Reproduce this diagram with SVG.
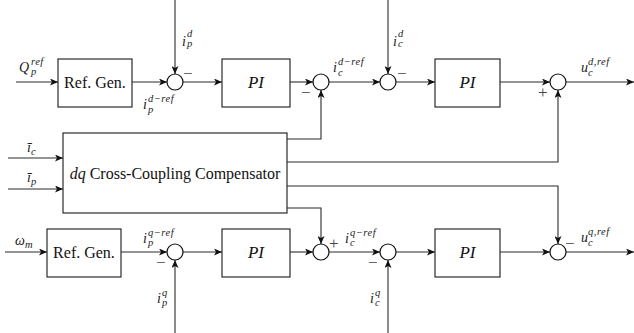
<svg xmlns="http://www.w3.org/2000/svg" width="634" height="333" viewBox="0 0 634 333">
<defs>
<marker id="ah" markerUnits="userSpaceOnUse" markerWidth="9" markerHeight="7" refX="8" refY="3.5" orient="auto">
<path d="M0,0 L8,3.5 L0,7 L2,3.5 Z" fill="#111"/>
</marker>
</defs>
<style>
.ar{fill:none;stroke:#2b2b2b;stroke-width:1.1;marker-end:url(#ah)}
.bx{fill:#fff;stroke:#2b2b2b;stroke-width:1.2}
.sm{fill:#fff;stroke:#111;stroke-width:1.2}
text{font-family:'Liberation Serif','Times New Roman','DejaVu Serif',serif}
.rm{font-size:16px;fill:#111}
.pi{font-style:italic;font-size:17px;fill:#111}
.m{font-style:italic;font-size:14px;fill:#222}
.s{font-size:10.5px;letter-spacing:0.5px}
.sg{font-size:17px;fill:#444}
</style>
<rect width="634" height="333" fill="#fff"/>

<g id="connectors">
<line class="ar" x1="16" y1="82" x2="58" y2="82"/>
<line class="ar" x1="132" y1="82" x2="167" y2="82"/>
<line class="ar" x1="175" y1="0" x2="175" y2="74"/>
<line class="ar" x1="183" y1="82" x2="222" y2="82"/>
<line class="ar" x1="290" y1="82" x2="313" y2="82"/>
<line class="ar" x1="329" y1="82" x2="380" y2="82"/>
<line class="ar" x1="388" y1="0" x2="388" y2="74"/>
<line class="ar" x1="396" y1="82" x2="435" y2="82"/>
<line class="ar" x1="500" y1="82" x2="550" y2="82"/>
<line class="ar" x1="566" y1="82" x2="634" y2="82"/>
<line class="ar" x1="8" y1="158" x2="63" y2="158"/>
<line class="ar" x1="8" y1="189" x2="63" y2="189"/>
<polyline class="ar" points="287,139 321,139 321,90"/>
<polyline class="ar" points="287,162 558,162 558,90"/>
<polyline class="ar" points="287,186 558,186 558,244"/>
<polyline class="ar" points="287,208 321,208 321,244"/>
<line class="ar" x1="5" y1="252" x2="47" y2="252"/>
<line class="ar" x1="121" y1="252" x2="167" y2="252"/>
<line class="ar" x1="175" y1="333" x2="175" y2="260"/>
<line class="ar" x1="183" y1="252" x2="222" y2="252"/>
<line class="ar" x1="290" y1="252" x2="313" y2="252"/>
<line class="ar" x1="329" y1="252" x2="380" y2="252"/>
<line class="ar" x1="388" y1="333" x2="388" y2="260"/>
<line class="ar" x1="396" y1="252" x2="435" y2="252"/>
<line class="ar" x1="500" y1="252" x2="550" y2="252"/>
<line class="ar" x1="566" y1="252" x2="634" y2="252"/>
</g>

<g id="refgen-d"><rect class="bx" x="58" y="59" width="74" height="48"/><text class="rm" x="95" y="88" text-anchor="middle">Ref. Gen.</text></g>
<g id="sum-pd"><circle class="sm" cx="175" cy="82" r="8"/></g>
<g id="pi-pd"><rect class="bx" x="222" y="59" width="68" height="48"/><text class="pi" x="256" y="88" text-anchor="middle">PI</text></g>
<g id="sum-cd1"><circle class="sm" cx="321" cy="82" r="8"/></g>
<g id="sum-cd2"><circle class="sm" cx="388" cy="82" r="8"/></g>
<g id="pi-cd"><rect class="bx" x="435" y="59" width="65" height="48"/><text class="pi" x="467.5" y="88" text-anchor="middle">PI</text></g>
<g id="sum-ud"><circle class="sm" cx="558" cy="82" r="8"/></g>

<g id="compensator"><rect class="bx" x="63" y="133" width="224" height="80"/><text class="rm" x="175" y="179" text-anchor="middle"><tspan font-style="italic">dq</tspan> Cross-Coupling Compensator</text></g>

<g id="refgen-q"><rect class="bx" x="47" y="229" width="74" height="48"/><text class="rm" x="84" y="258" text-anchor="middle">Ref. Gen.</text></g>
<g id="sum-pq"><circle class="sm" cx="175" cy="252" r="8"/></g>
<g id="pi-pq"><rect class="bx" x="222" y="229" width="68" height="48"/><text class="pi" x="256" y="258" text-anchor="middle">PI</text></g>
<g id="sum-cq1"><circle class="sm" cx="321" cy="252" r="8"/></g>
<g id="sum-cq2"><circle class="sm" cx="388" cy="252" r="8"/></g>
<g id="pi-cq"><rect class="bx" x="435" y="229" width="65" height="48"/><text class="pi" x="467.5" y="258" text-anchor="middle">PI</text></g>
<g id="sum-uq"><circle class="sm" cx="558" cy="252" r="8"/></g>

<g id="labels">
<text class="m" x="19" y="72">Q<tspan class="s" x="31" y="65">ref</tspan><tspan class="s" x="31" y="75">p</tspan></text>
<text class="m" x="182" y="46">i<tspan class="s" x="187" y="37">d</tspan><tspan class="s" x="187" y="47">p</tspan></text>
<text class="m" x="143" y="109">i<tspan class="s" x="148" y="102">d−ref</tspan><tspan class="s" x="148" y="113">p</tspan></text>
<text class="m" x="333" y="72">i<tspan class="s" x="338" y="65">d−ref</tspan><tspan class="s" x="338" y="76">c</tspan></text>
<text class="m" x="393" y="46">i<tspan class="s" x="398" y="37">d</tspan><tspan class="s" x="398" y="47">c</tspan></text>
<text class="m" x="581" y="72">u<tspan class="s" x="588" y="65">d,ref</tspan><tspan class="s" x="588" y="76">c</tspan></text>
<text class="m" x="27" y="152">ī<tspan class="s" x="31" y="155">c</tspan></text>
<text class="m" x="27" y="182">ī<tspan class="s" x="31" y="185">p</tspan></text>
<text class="m" x="15" y="245">ω<tspan class="s" x="25" y="248">m</tspan></text>
<text class="m" x="143" y="243">i<tspan class="s" x="148" y="236">q−ref</tspan><tspan class="s" x="148" y="246">p</tspan></text>
<text class="m" x="157" y="303">i<tspan class="s" x="162" y="296">q</tspan><tspan class="s" x="162" y="306">p</tspan></text>
<text class="m" x="345" y="243">i<tspan class="s" x="350" y="236">q−ref</tspan><tspan class="s" x="350" y="246">c</tspan></text>
<text class="m" x="370" y="303">i<tspan class="s" x="375" y="296">q</tspan><tspan class="s" x="375" y="306">c</tspan></text>
<text class="m" x="581" y="242">u<tspan class="s" x="588" y="235">q,ref</tspan><tspan class="s" x="588" y="246">c</tspan></text>
<text class="sg" x="183" y="79">−</text>
<text class="sg" x="301" y="98">−</text>
<text class="sg" x="397" y="79">−</text>
<text class="sg" x="538" y="98">+</text>
<text class="sg" x="156" y="268">−</text>
<text class="sg" x="329" y="249">+</text>
<text class="sg" x="368" y="268">−</text>
<text class="sg" x="565" y="249">−</text>
</g>
</svg>
